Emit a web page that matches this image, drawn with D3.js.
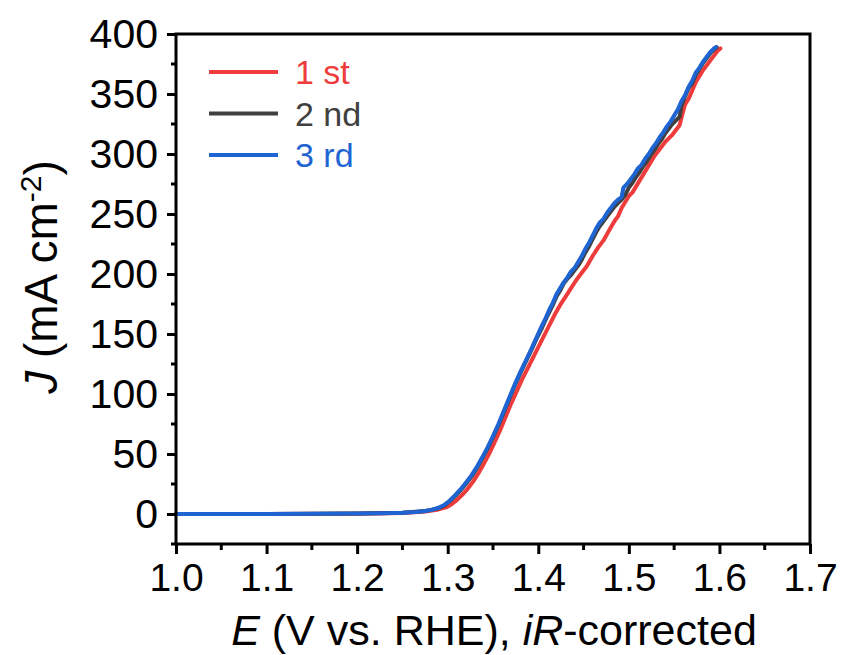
<!DOCTYPE html>
<html>
<head>
<meta charset="utf-8">
<script src="https://cdn.jsdelivr.net/npm/d3@7"></script>
<style>
  html, body { margin: 0; padding: 0; background: #fff; }
  svg { display: block; }
  text { font-family: Arial, "Liberation Sans", sans-serif; }
</style>
</head>
<body>
<svg id="chart" width="842" height="655"></svg>
<script>
// LSV polarization curves, three consecutive scans: [E (V vs. RHE), J (mA cm^-2)]
const scan1 = [
  [1.000,0],[1.100,0.1],[1.200,0.3],[1.250,0.9],[1.275,2],[1.290,3.8],[1.298,5.5],
  [1.304,8],[1.310,11.5],[1.316,16],[1.322,21],[1.328,27],[1.334,34],[1.340,42],
  [1.346,50.5],[1.352,60],[1.358,70],[1.364,81],[1.370,92],[1.376,102],[1.382,112],
  [1.388,121],[1.394,130],[1.400,139],[1.406,148],[1.412,157],[1.418,166],[1.424,174],
  [1.430,181],[1.436,188],[1.442,195],[1.448,201],[1.454,207],[1.460,215],[1.466,222],
  [1.472,228],[1.478,236],[1.484,244],[1.488,248],[1.492,255],[1.496,260],[1.500,265],
  [1.504,268],[1.508,273],[1.512,278],[1.516,283],[1.520,288],[1.524,293],[1.528,298],
  [1.532,302],[1.536,306],[1.540,310],[1.544,313],[1.548,316],[1.552,320],[1.556,324],
  [1.559,333],[1.562,341],[1.566,346],[1.570,353],[1.574,360],[1.578,365],[1.582,370],
  [1.586,374],[1.590,378],[1.594,382],[1.598,386],[1.601,388]
];
const scan2 = [
  [1.000,0],[1.100,0.1],[1.200,0.4],[1.250,1.1],[1.275,2.4],[1.290,4.8],[1.296,7],
  [1.302,10.5],[1.308,14.8],[1.314,19.5],[1.320,25],[1.326,31],[1.332,38],[1.338,46],
  [1.344,54.5],[1.350,64],[1.356,74],[1.362,85],[1.368,96],[1.374,107],[1.380,117],
  [1.386,126.5],[1.392,136],[1.398,146],[1.404,155],[1.410,165],[1.416,174],[1.420,181],
  [1.424,186],[1.428,192],[1.432,196],[1.436,199],[1.440,203],[1.444,207],[1.448,212],
  [1.452,218],[1.456,223],[1.460,229],[1.464,235],[1.468,240],[1.472,244],[1.476,248],
  [1.480,252],[1.484,256],[1.488,259],[1.492,262],[1.496,266],[1.500,272],[1.504,276],
  [1.508,281],[1.512,285],[1.516,290],[1.520,294],[1.524,299],[1.528,303],[1.532,308],
  [1.536,312],[1.540,317],[1.544,321],[1.548,325],[1.552,328],[1.556,331],[1.558,340],
  [1.562,348],[1.566,355],[1.570,359],[1.574,366],[1.578,371],[1.582,376],[1.586,380],
  [1.590,384],[1.594,387],[1.597,389]
];
const scan3 = [
  [1.000,0],[1.050,0],[1.100,0.1],[1.150,0.2],[1.200,0.4],[1.230,0.7],[1.250,1.1],
  [1.265,1.7],[1.275,2.5],[1.283,3.6],[1.290,5.2],[1.296,7.5],[1.302,11],[1.308,15.5],
  [1.314,20.5],[1.320,26],[1.326,32],[1.332,39],[1.338,47],[1.344,55.5],[1.350,65],
  [1.356,75],[1.362,86],[1.368,97],[1.374,108],[1.380,118],[1.386,127.5],[1.392,137],
  [1.398,147],[1.404,157],[1.408,163],[1.412,170],[1.416,176],[1.420,183],[1.424,188],
  [1.428,193],[1.432,197],[1.436,202],[1.440,205],[1.444,210],[1.448,215],[1.452,221],
  [1.456,226],[1.460,232],[1.464,238],[1.468,243],[1.472,246],[1.476,251],[1.480,255],
  [1.484,259],[1.488,262],[1.492,264],[1.494,272],[1.498,275],[1.502,279],[1.506,283],
  [1.510,288],[1.514,291],[1.518,296],[1.522,300],[1.526,305],[1.530,309],[1.534,314],
  [1.538,318],[1.542,323],[1.546,327],[1.550,332],[1.554,337],[1.558,344],[1.562,349],
  [1.566,356],[1.570,361],[1.574,368],[1.578,372],[1.582,377],[1.586,381],[1.590,385],
  [1.594,388],[1.596,389]
];

const seriesNames = ["1 st", "2 nd", "3 rd"];
const seriesColors = ["#ee3b3b", "#404040", "#1e64d2"];
const xTicks = [1.0, 1.1, 1.2, 1.3, 1.4, 1.5, 1.6, 1.7];
const yTicks = [0, 50, 100, 150, 200, 250, 300, 350, 400];
const xMinorTicks = [1.05, 1.15, 1.25, 1.35, 1.45, 1.55, 1.65];
const yMinorTicks = [-25, 25, 75, 125, 175, 225, 275, 325, 375];

const svg = d3.select("#chart");
const m = { left: 176, right: 810, top: 34, bottom: 544 };

const x = d3.scaleLinear().domain([1.0, 1.7]).range([m.left, m.right]);
const y = d3.scaleLinear().domain([-25, 400]).range([m.bottom, m.top]);

// Curves (first scan underneath, third scan on top)
const plot = svg.append("g");
const line = d3.line().x(d => x(d[0])).y(d => y(d[1]));
[scan1, scan2, scan3].forEach((data, i) => {
  plot.append("path")
    .datum(data)
    .attr("fill", "none")
    .attr("stroke", seriesColors[i])
    .attr("stroke-width", 4)
    .attr("stroke-linejoin", "round")
    .attr("stroke-linecap", "round")
    .attr("d", line);
});

// Frame
svg.append("rect")
  .attr("x", m.left).attr("y", m.top)
  .attr("width", m.right - m.left).attr("height", m.bottom - m.top)
  .attr("fill", "none").attr("stroke", "#000").attr("stroke-width", 3);

// Bottom axis
const xAxis = svg.append("g")
  .attr("transform", `translate(0,${m.bottom})`)
  .call(d3.axisBottom(x).tickValues(xTicks).tickFormat(d3.format(".1f")).tickSize(10).tickPadding(9));
xAxis.select(".domain").remove();
xAxis.selectAll(".tick line").attr("stroke", "#000").attr("stroke-width", 3);
xAxis.selectAll(".tick text").attr("font-size", 39).attr("fill", "#000")
  .style("font-family", "Arial, 'Liberation Sans', sans-serif");
xAxis.selectAll(".minor").data(xMinorTicks).enter().append("line")
  .attr("x1", d => x(d)).attr("x2", d => x(d))
  .attr("y1", 0).attr("y2", 6)
  .attr("stroke", "#000").attr("stroke-width", 3);

// Left axis
const yAxis = svg.append("g")
  .attr("transform", `translate(${m.left},0)`)
  .call(d3.axisLeft(y).tickValues(yTicks).tickSize(9).tickPadding(9));
yAxis.select(".domain").remove();
yAxis.selectAll(".tick line").attr("stroke", "#000").attr("stroke-width", 3);
yAxis.selectAll(".tick text").attr("font-size", 41).attr("fill", "#000")
  .style("font-family", "Arial, 'Liberation Sans', sans-serif");
yAxis.selectAll(".minor").data(yMinorTicks).enter().append("line")
  .attr("x1", 0).attr("x2", -5)
  .attr("y1", d => y(d)).attr("y2", d => y(d))
  .attr("stroke", "#000").attr("stroke-width", 3);

// Axis titles
const xTitle = svg.append("text")
  .attr("x", 494).attr("y", 645)
  .attr("text-anchor", "middle").attr("font-size", 43).attr("fill", "#000");
xTitle.append("tspan").attr("font-style", "italic").text("E");
xTitle.append("tspan").text(" (V vs. RHE), ");
xTitle.append("tspan").attr("font-style", "italic").text("iR");
xTitle.append("tspan").text("-corrected");

const yTitle = svg.append("text")
  .attr("transform", "translate(57,277) rotate(-90)")
  .attr("text-anchor", "middle").attr("font-size", 46).attr("fill", "#000");
yTitle.append("tspan").attr("font-style", "italic").text("J");
yTitle.append("tspan").text(" (mA cm");
yTitle.append("tspan").attr("font-size", 30).attr("baseline-shift", "super").text("-2");
yTitle.append("tspan").text(")");

// Legend
const legend = svg.append("g");
seriesNames.forEach((name, i) => {
  const ly = 72 + i * 41.5;
  legend.append("line")
    .attr("x1", 209).attr("x2", 278).attr("y1", ly).attr("y2", ly)
    .attr("stroke", seriesColors[i]).attr("stroke-width", 4);
  legend.append("text")
    .attr("x", 295).attr("y", ly + 12)
    .attr("font-size", 34).attr("fill", seriesColors[i])
    .text(name);
});
</script>
</body>
</html>
